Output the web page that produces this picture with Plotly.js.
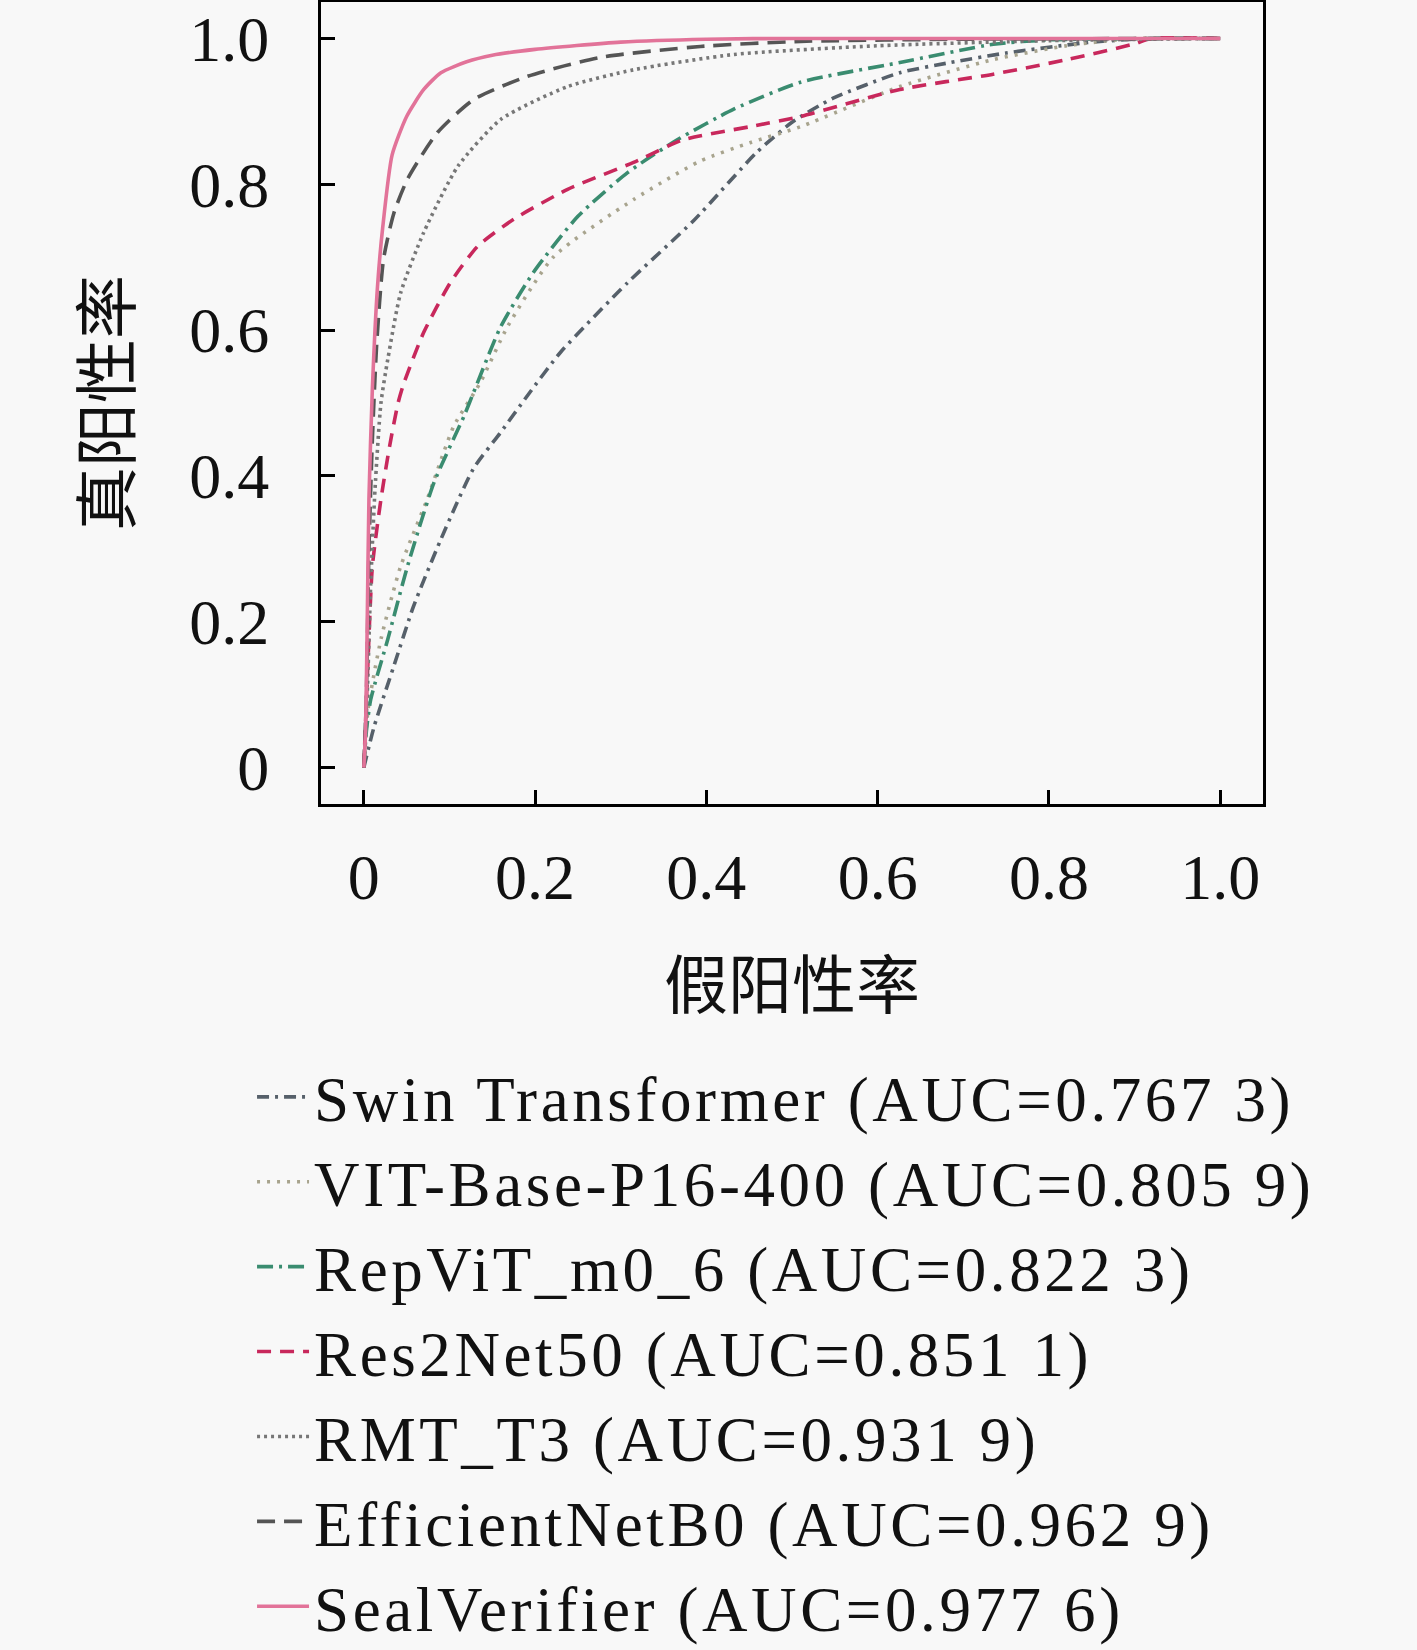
<!DOCTYPE html>
<html>
<head>
<meta charset="utf-8">
<script src="https://cdn.plot.ly/plotly-3.0.1.min.js"></script>
<style>
html,body{margin:0;padding:0;background:#f8f8f8;}
#chart{width:1417px;height:1650px;}
.legendtext{letter-spacing:3.6px;}
</style>
</head>
<body>
<div id="chart"></div>
<script>
// ---- data ----
const names = [
  "Swin Transformer (AUC=0.767 3)",
  "VIT-Base-P16-400 (AUC=0.805 9)",
  "RepViT_m0_6 (AUC=0.822 3)",
  "Res2Net50 (AUC=0.851 1)",
  "RMT_T3 (AUC=0.931 9)",
  "EfficientNetB0 (AUC=0.962 9)",
  "SealVerifier (AUC=0.977 6)"
];

const swinX = [0,0.012,0.035,0.058,0.09,0.128,0.16,0.191,0.23,0.308,0.385,0.459,0.5,0.548,0.626,0.685,0.75,0.85,0.92,1];
const swinY = [0,0.056,0.139,0.221,0.313,0.41,0.46,0.51,0.57,0.665,0.75,0.844,0.885,0.918,0.953,0.967,0.98,0.995,1,1];

const vitX = [0,0.005,0.02,0.043,0.074,0.105,0.136,0.168,0.222,0.315,0.393,0.451,0.51,0.626,0.735,0.821,0.9,1];
const vitY = [0,0.08,0.176,0.276,0.368,0.468,0.528,0.605,0.701,0.779,0.832,0.857,0.879,0.934,0.971,0.99,1,1];

const repX = [0,0.003,0.008,0.028,0.051,0.082,0.117,0.128,0.16,0.198,0.25,0.308,0.366,0.432,0.51,0.626,0.735,0.8,1];
const repY = [0,0.05,0.093,0.176,0.276,0.391,0.482,0.514,0.605,0.679,0.756,0.816,0.861,0.903,0.94,0.967,0.992,0.998,1];

const resX = [0,0.005,0.01,0.02,0.03,0.04,0.047,0.07,0.101,0.133,0.175,0.238,0.315,0.373,0.451,0.51,0.626,0.735,0.821,0.898,0.92,1];
const resY = [0,0.15,0.276,0.368,0.44,0.5,0.528,0.597,0.665,0.715,0.752,0.793,0.83,0.861,0.879,0.893,0.93,0.951,0.971,0.992,1,1];

const rmtX = [0,0.004,0.008,0.013,0.02,0.028,0.043,0.07,0.11,0.16,0.238,0.315,0.432,0.6,0.8,1];
const rmtY = [0,0.1,0.25,0.38,0.5,0.56,0.651,0.734,0.825,0.889,0.934,0.957,0.978,0.99,0.997,1];

const effX = [0,0.003,0.006,0.01,0.015,0.023,0.035,0.051,0.086,0.128,0.191,0.276,0.393,0.51,0.7,1];
const effY = [0,0.1,0.3,0.45,0.58,0.697,0.76,0.807,0.871,0.916,0.948,0.974,0.989,0.996,0.999,1];

const sealX = [0,0.002,0.004,0.006,0.01,0.016,0.022,0.033,0.05,0.07,0.09,0.12,0.15,0.2,0.3,0.4,0.5,1];
const sealY = [0,0.05,0.2,0.37,0.52,0.66,0.74,0.84,0.893,0.93,0.953,0.968,0.977,0.985,0.995,0.999,1,1];

const tickVals = [0,0.2,0.4,0.6,0.8,1.0];
const tickText = ["0","0.2","0.4","0.6","0.8","1.0"];
const xTitle = "假阳性率";
const yTitle = "真阳性率";

// ---- styles ----
const styles = [
  {color:"#56606a", dash:"12px,6px,3px,6px"},
  {color:"#a8a48e", dash:"3px,7px"},
  {color:"#3a8c70", dash:"16px,6px,3px,6px"},
  {color:"#c8285c", dash:"14px,9px"},
  {color:"#777777", dash:"3px,4px"},
  {color:"#555555", dash:"18px,9px"},
  {color:"#e27399", dash:"solid"}
];
const xs = [swinX, vitX, repX, resX, rmtX, effX, sealX];
const ys = [swinY, vitY, repY, resY, rmtY, effY, sealY];

const traces = names.map((n,i)=>({
  type:"scatter", mode:"lines", name:n,
  x: xs[i], y: ys[i],
  line:{color:styles[i].color, dash:styles[i].dash, width:3.6, shape:"spline", smoothing:0.6}
}));

const serif = "Liberation Serif, Times New Roman, serif";
const cjk = "Noto Sans CJK SC, sans-serif";

const layout = {
  width:1417, height:1650,
  paper_bgcolor:"#f8f8f8", plot_bgcolor:"#f8f8f8",
  margin:{l:321, r:154, t:2, b:846, autoexpand:false},
  showlegend:true,
  legend:{
    x:-0.0732, xanchor:"left", y:-0.306, yanchor:"top",
    font:{family:serif, size:63, color:"#111"},
    bgcolor:"rgba(0,0,0,0)", tracegroupgap:0, itemwidth:52
  },
  xaxis:{
    range:[-0.05,1.05], tickmode:"array", tickvals:tickVals, ticktext:tickText,
    ticks:"inside", ticklen:14, tickwidth:3, tickcolor:"#000",
    showline:true, linecolor:"#000", linewidth:3, mirror:true,
    showgrid:false, zeroline:false,
    tickfont:{family:serif, size:64, color:"#111"}, ticklabelstandoff:15,
    title:{text:xTitle, font:{family:cjk, size:64, color:"#111"}, standoff:52}
  },
  yaxis:{
    range:[-0.05,1.05], tickmode:"array", tickvals:tickVals, ticktext:tickText,
    ticks:"inside", ticklen:14, tickwidth:3, tickcolor:"#000",
    showline:true, linecolor:"#000", linewidth:3, mirror:true,
    showgrid:false, zeroline:false,
    tickfont:{family:serif, size:64, color:"#111"}, ticklabelstandoff:36,
    title:{text:yTitle, font:{family:cjk, size:64, color:"#111"}, standoff:38}
  }
};

Plotly.newPlot("chart", traces, layout, {staticPlot:true, displayModeBar:false});
</script>
</body>
</html>
